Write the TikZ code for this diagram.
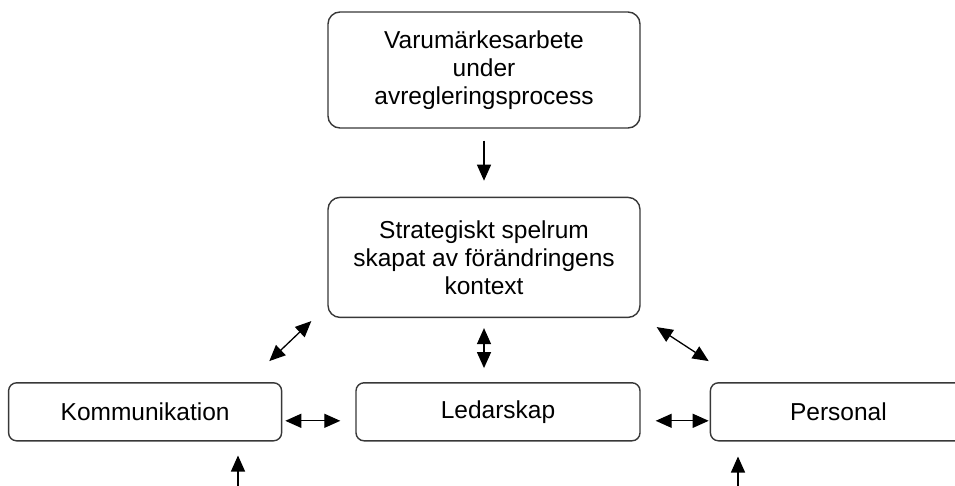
\documentclass[tikz,border=0pt]{standalone}
\usepackage{fontspec}
\setmainfont{Liberation Sans}
\usetikzlibrary{arrows.meta,positioning}

\begin{document}
\begin{tikzpicture}[x=1pt,y=-1pt,>={Triangle[length=16pt,width=14pt]},
font=\fontsize{24.5}{28}\selectfont,
box/.style={draw=black!78,line width=1.4pt,rounded corners=12pt,fill=white,minimum width=312pt,minimum height=116pt,align=center,inner sep=0pt},
smallbox/.style={box,rounded corners=8pt,minimum height=58pt},
arr/.style={->,line width=1.3pt},
darr/.style={<->,line width=1.3pt}]
\useasboundingbox (0,0) rectangle (955,485);
\clip (0,0) rectangle (955,485);
\node[box] (work) at (484,70) {Varumärkesarbete\\under\\avregleringsprocess};
\node[box,minimum height=120pt,below=68pt of work] (space) {Strategiskt spelrum\\skapat av förändringens\\kontext};
\node[smallbox,minimum width=284pt,below=64pt of space,xshift=14pt] (lead) {Ledarskap};
\node[smallbox,minimum width=273pt,left=73pt of lead] (comm) {Kommunikation};
\node[smallbox,minimum width=256pt,right=69pt of lead] (staff) {Personal};
\coordinate (commin) at (238,500);
\coordinate (staffin) at (738,500);
\draw[arr,shorten <=12pt,shorten >=16pt] (work)--(space);
\draw[darr,shorten <=10pt,shorten >=14pt] (space.south)--(space.south |- lead.north);
\draw[darr,shorten <=3pt,shorten >=15pt] ([yshift=-9pt]comm.east)--([yshift=-9pt]lead.west);
\draw[darr,shorten <=15pt,shorten >=1pt] ([yshift=-9pt]lead.east)--([yshift=-9pt]staff.west);
\draw[darr] ([xshift=-16pt,yshift=-3pt]space.south west)--([xshift=-13pt,yshift=21pt]comm.north east);
\draw[darr] ([xshift=16pt,yshift=-9pt]space.south east)--([xshift=-1pt,yshift=21pt]staff.north west);
\draw[arr,shorten >=14pt] (commin)--(commin |- comm.south);
\draw[arr,shorten >=15pt] (staffin)--(staffin |- staff.south);
\end{tikzpicture}
\end{document}
